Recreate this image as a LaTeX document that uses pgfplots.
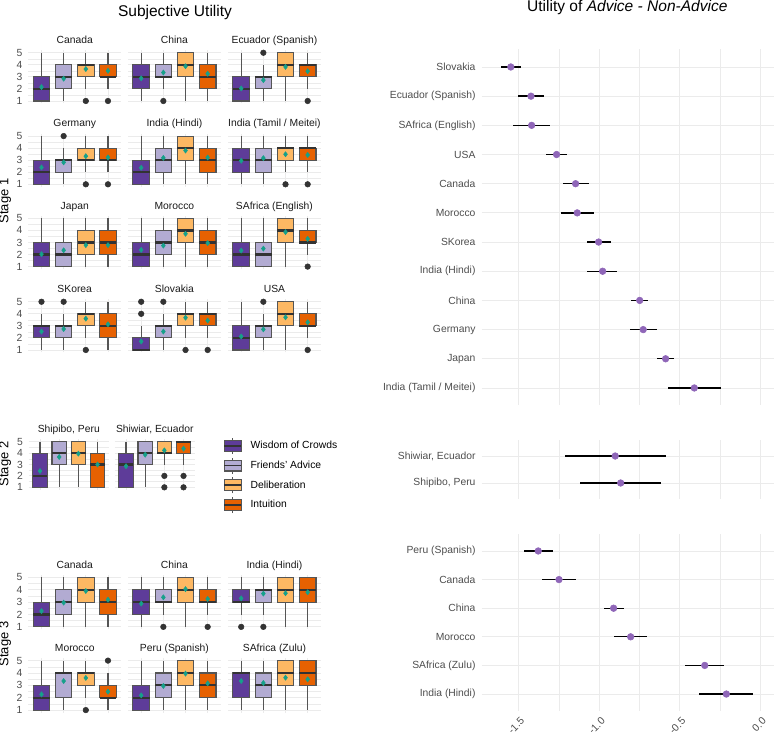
\documentclass[border=0pt]{standalone}
\usepackage{fontspec}
\setmainfont{Liberation Sans}
\usepackage{pgfplots}
\pgfplotsset{compat=1.18}
\usepackage{pgfplotstable}
\usepgfplotslibrary{statistics}

\definecolor{cat1}{HTML}{5E3C99}
\definecolor{cat2}{HTML}{B2ABD2}
\definecolor{cat3}{HTML}{FDB863}
\definecolor{cat4}{HTML}{E66101}
\definecolor{boxedge}{HTML}{555555}
\definecolor{medline}{HTML}{333333}
\definecolor{outl}{HTML}{333333}
\definecolor{meanc}{HTML}{16A08A}
\definecolor{gridc}{HTML}{EBEBEB}
\definecolor{axtext}{HTML}{4D4D4D}
\definecolor{striptext}{HTML}{1A1A1A}
\definecolor{ptc}{HTML}{8F66B8}

\newcommand{\smallfont}{\fontsize{7.75}{9.3}\selectfont}

% Effect estimates (advice minus non-advice) with interval bounds
\pgfplotstableread{
r est lo hi
1 -1.549 -1.613 -1.486
2 -1.424 -1.503 -1.342
3 -1.420 -1.534 -1.306
4 -1.265 -1.331 -1.201
5 -1.147 -1.227 -1.066
6 -1.137 -1.236 -1.033
7 -1.004 -1.078 -0.929
8 -0.979 -1.075 -0.888
9 -0.749 -0.803 -0.696
10 -0.727 -0.809 -0.644
11 -0.588 -0.644 -0.534
12 -0.410 -0.573 -0.246
}\stageone
\pgfplotstableread{
r est lo hi
1 -0.901 -1.211 -0.588
2 -0.867 -1.118 -0.619
}\stagetwo
\pgfplotstableread{
r est lo hi
1 -1.379 -1.468 -1.290
2 -1.250 -1.354 -1.145
3 -0.911 -0.973 -0.847
4 -0.805 -0.907 -0.706
5 -0.345 -0.466 -0.224
6 -0.211 -0.379 -0.043
}\stagethree

% one box: position, lower whisker, lower quartile, median, upper quartile, upper whisker, mean, outliers
\newcommand{\bx}[8]{%
  \addplot[forget plot, draw=boxedge, line width=0.8pt, fill=cat#1,
    boxplot prepared={draw direction=y, draw position=#1, lower whisker=#2, lower quartile=#3,
      median=#4, upper quartile=#5, upper whisker=#6, box extend=0.75,
      whisker extend=0, every median/.style={draw=medline, line width=1.7pt}}]
    coordinates {};
  \if\relax\detokenize{#8}\relax\else
  \addplot[forget plot, only marks, mark=*, mark size=2.1pt, color=outl] coordinates {#8};
  \fi
  \addplot[forget plot, only marks, mark=diamond*, mark size=1.9pt, color=meanc] coordinates {(#1,#7)};
}

\pgfplotsset{
  facet/.style={
    scale only axis, width=69.8pt, height=39.8pt, anchor=south west,
    xmin=0.4, xmax=4.6, ymin=0.8, ymax=5.2,
    xtick={1,2,3,4}, xticklabels={}, ytick={1,2,3,4,5}, yticklabels={},
    minor ytick={1.5,2.5,3.5,4.5},
    xmajorgrids, ymajorgrids, yminorgrids,
    major grid style={draw=gridc, line width=0.7pt},
    minor grid style={draw=gridc, line width=0.35pt},
    axis line style={draw=none}, major tick length=0pt, minor tick length=0pt,
    every axis title/.style={at={(0.5,1)}, anchor=base, yshift=5.2pt, inner sep=0pt,
      font=\smallfont, text=striptext},
  },
  ylab/.style={yticklabels={1,2,3,4,5},
    yticklabel style={font=\smallfont, text=axtext, inner sep=0pt, xshift=-4.1pt}},
  estpanel/.style={
    scale only axis, width=219.2pt, anchor=south west,
    xmin=-1.7297, xmax=0.085, y dir=reverse,
    xtick={-1.5,-1,-0.5,0}, minor xtick={-1.25,-0.75,-0.25}, xticklabels={},
    xmajorgrids, xminorgrids, ymajorgrids,
    major grid style={draw=gridc, line width=0.7pt},
    minor grid style={draw=gridc, line width=0.5pt},
    axis line style={draw=none}, major tick length=0pt, minor tick length=0pt,
    yticklabel style={font=\smallfont, text=axtext, inner sep=0pt, xshift=-4.5pt},
  },
  keybox/.style={legend image code/.code={
    \draw[draw=boxedge, line width=0.8pt] (6.375pt,-6pt) -- (6.375pt,6pt);
    \draw[draw=boxedge, line width=0.8pt, fill=#1] (0pt,-4.1pt) rectangle (12.75pt,4.1pt);
    \draw[draw=medline, line width=1.3pt] (0pt,0pt) -- (12.75pt,0pt);
  }},
}

\newcommand{\estimates}[1]{%
  \addplot[draw=none, mark=none, error bars/.cd, x dir=both, x explicit, error mark=none,
    error bar style={draw=black, line width=1pt, solid}]
    table[x=est, y=r, x error plus expr=\thisrow{hi}-\thisrow{est},
      x error minus expr=\thisrow{est}-\thisrow{lo}] {#1};
  \addplot[only marks, mark=*, mark size=2.5pt, color=ptc] table[x=est, y=r] {#1};
}

\begin{document}
\begin{tikzpicture}
\useasboundingbox (0,0) rectangle (580.5pt,-551.25pt);

% headings
\node[anchor=base, font=\fontsize{11.65}{14}\selectfont] at (131.25pt,-12.5pt) {Subjective Utility};
\node[anchor=base, font=\fontsize{11.65}{14}\selectfont] at (470.5pt,-8.9pt) {Utility of \textit{Advice - Non-Advice}};
\node[rotate=90, anchor=base, font=\fontsize{9.7}{11}\selectfont] at (6.2pt,-150.75pt) {Stage 1};
\node[rotate=90, anchor=base, font=\fontsize{9.7}{11}\selectfont] at (6.2pt,-348pt) {Stage 2};
\node[rotate=90, anchor=base, font=\fontsize{9.7}{11}\selectfont] at (6.2pt,-483pt) {Stage 3};

% ---------------- Stage 1 ----------------
\begin{axis}[facet, ylab, at={(21.15pt,-77.55pt)}, title={Canada}]
\bx{1}{1}{1}{2}{3}{5}{2.15}{} \bx{2}{1}{2}{3}{4}{5}{2.85}{}
\bx{3}{2}{3}{4}{4}{5}{3.65}{(3,1)} \bx{4}{2}{3}{3}{4}{5}{3.50}{(4,1)}
\end{axis}
\begin{axis}[facet, at={(95.93pt,-77.55pt)}, title={China}]
\bx{1}{1}{2}{3}{4}{5}{2.88}{} \bx{2}{2}{3}{3}{4}{5}{3.36}{(2,1)}
\bx{3}{1}{3}{4}{5}{5}{3.88}{} \bx{4}{1}{2}{3}{4}{5}{3.26}{}
\end{axis}
\begin{axis}[facet, at={(170.93pt,-77.55pt)}, title={Ecuador (Spanish)}]
\bx{1}{1}{1}{2}{3}{5}{2.04}{} \bx{2}{1}{2}{3}{3}{4}{2.73}{(2,5)}
\bx{3}{1}{3}{4}{5}{5}{3.83}{} \bx{4}{2}{3}{4}{4}{5}{3.47}{(4,1)}
\end{axis}

\begin{axis}[facet, ylab, at={(21.15pt,-140.03pt)}, title={Germany}]
\bx{1}{1}{1}{2}{3}{5}{2.40}{} \bx{2}{1}{2}{3}{3}{4}{2.82}{(2,5)}
\bx{3}{2}{3}{3}{4}{5}{3.33}{(3,1)} \bx{4}{2}{3}{3}{4}{5}{3.23}{(4,1)}
\end{axis}
\begin{axis}[facet, at={(95.93pt,-140.03pt)}, title={India (Hindi)}]
\bx{1}{1}{1}{2}{3}{5}{2.37}{} \bx{2}{1}{2}{3}{4}{5}{3.19}{}
\bx{3}{1}{3}{4}{5}{5}{3.80}{} \bx{4}{1}{2}{3}{4}{5}{3.22}{}
\end{axis}
\begin{axis}[facet, at={(170.93pt,-140.03pt)}, title={India (Tamil / Meitei)}]
\bx{1}{1}{2}{3}{4}{5}{2.95}{} \bx{2}{1}{2}{3}{4}{5}{3.17}{}
\bx{3}{2}{3}{4}{4}{5}{3.49}{(3,1)} \bx{4}{2}{3}{4}{4}{5}{3.43}{(4,1)}
\end{axis}

\begin{axis}[facet, ylab, at={(21.15pt,-201.75pt)}, title={Japan}]
\bx{1}{1}{1}{2}{3}{5}{2.03}{} \bx{2}{1}{1}{2}{3}{5}{2.35}{}
\bx{3}{1}{2}{3}{4}{5}{2.78}{} \bx{4}{1}{2}{3}{4}{5}{2.78}{}
\end{axis}
\begin{axis}[facet, at={(95.93pt,-201.75pt)}, title={Morocco}]
\bx{1}{1}{1}{2}{3}{5}{2.38}{} \bx{2}{1}{2}{3}{4}{5}{2.74}{}
\bx{3}{1}{3}{4}{5}{5}{3.72}{} \bx{4}{1}{2}{3}{4}{5}{2.95}{}
\end{axis}
\begin{axis}[facet, at={(170.93pt,-201.75pt)}, title={SAfrica (English)}]
\bx{1}{1}{1}{2}{3}{5}{2.33}{} \bx{2}{1}{1}{2}{3}{5}{2.49}{}
\bx{3}{1}{3}{4}{5}{5}{3.86}{} \bx{4}{2}{3}{3}{4}{5}{3.30}{(4,1)}
\end{axis}

\begin{axis}[facet, ylab, at={(21.15pt,-264.3pt)}, title={SKorea}]
\bx{1}{1}{2}{3}{3}{4}{2.53}{(1,5)} \bx{2}{1}{2}{3}{3}{4}{2.74}{(2,5)}
\bx{3}{2}{3}{4}{4}{5}{3.60}{(3,1)} \bx{4}{1}{2}{3}{4}{5}{3.13}{}
\end{axis}
\begin{axis}[facet, at={(95.93pt,-264.3pt)}, title={Slovakia}]
\bx{1}{1}{1}{1}{2}{3}{1.71}{(1,4) (1,5)} \bx{2}{1}{2}{3}{3}{4}{2.53}{(2,5)}
\bx{3}{2}{3}{4}{4}{5}{3.68}{(3,1)} \bx{4}{2}{3}{4}{4}{5}{3.44}{(4,1)}
\end{axis}
\begin{axis}[facet, at={(170.93pt,-264.3pt)}, title={USA}]
\bx{1}{1}{1}{2}{3}{5}{2.12}{} \bx{2}{1}{2}{3}{3}{4}{2.71}{(2,5)}
\bx{3}{1}{3}{4}{5}{5}{3.71}{} \bx{4}{2}{3}{3}{4}{5}{3.30}{(4,1)}
\end{axis}

% ---------------- Stage 2 ----------------
\begin{axis}[facet, ylab, width=60.4pt, height=37.65pt, at={(21.38pt,-367.2pt)}, title={Shipibo, Peru}]
\bx{1}{1}{1}{2}{4}{5}{2.43}{} \bx{2}{1}{3}{4}{5}{5}{3.66}{}
\bx{3}{1}{3}{4}{5}{5}{3.95}{} \bx{4}{1}{1}{3}{4}{5}{3.00}{}
\end{axis}
\begin{axis}[facet, width=60.4pt, height=37.65pt, at={(85.88pt,-367.2pt)}, title={Shiwiar, Ecuador},
  legend style={at={(1,1)}, anchor=north west, xshift=21.2pt, yshift=1.8pt,
    draw=none, fill=none, inner sep=0pt, row sep=2pt, column sep=6.2pt,
    font=\smallfont, nodes={inner sep=0pt}},
  legend cell align=left]
\addlegendimage{keybox=cat1}
\addlegendimage{keybox=cat2}
\addlegendimage{keybox=cat3}
\addlegendimage{keybox=cat4}
\legend{Wisdom of Crowds, Friends' Advice, Deliberation, Intuition}
\bx{1}{1}{1}{3}{4}{5}{2.85}{} \bx{2}{1}{3}{4}{5}{5}{3.86}{}
\bx{3}{3}{4}{4}{5}{5}{4.24}{(3,2) (3,1)} \bx{4}{3}{4}{5}{5}{5}{4.39}{(4,2) (4,1)}
\end{axis}

% ---------------- Stage 3 ----------------
\begin{axis}[facet, ylab, height=40.8pt, at={(21.15pt,-472pt)}, title={Canada}]
\bx{1}{1}{1}{2}{3}{5}{2.28}{} \bx{2}{1}{2}{3}{4}{5}{2.96}{}
\bx{3}{1}{3}{4}{5}{5}{3.90}{} \bx{4}{1}{2}{3}{4}{5}{3.20}{}
\end{axis}
\begin{axis}[facet, height=40.8pt, at={(95.93pt,-472pt)}, title={China}]
\bx{1}{1}{2}{3}{4}{5}{2.88}{} \bx{2}{2}{3}{3}{4}{5}{3.39}{(2,1)}
\bx{3}{1}{3}{4}{5}{5}{4.05}{} \bx{4}{2}{3}{3}{4}{5}{3.26}{(4,1)}
\end{axis}
\begin{axis}[facet, height=40.8pt, at={(170.93pt,-472pt)}, title={India (Hindi)}]
\bx{1}{2}{3}{3}{4}{5}{3.31}{(1,1)} \bx{2}{2}{3}{4}{4}{5}{3.69}{(2,1)}
\bx{3}{1}{3}{4}{5}{5}{3.72}{} \bx{4}{1}{3}{4}{5}{5}{3.80}{}
\end{axis}

\begin{axis}[facet, ylab, height=40.8pt, at={(21.15pt,-534.4pt)}, title={Morocco}]
\bx{1}{1}{1}{2}{3}{5}{2.27}{} \bx{2}{1}{2}{4}{4}{5}{3.35}{}
\bx{3}{2}{3}{4}{4}{5}{3.60}{(3,1)} \bx{4}{1}{2}{2}{3}{4}{2.49}{(4,5)}
\end{axis}
\begin{axis}[facet, height=40.8pt, at={(95.93pt,-534.4pt)}, title={Peru (Spanish)}]
\bx{1}{1}{1}{2}{3}{5}{2.19}{} \bx{2}{1}{2}{3}{4}{5}{2.95}{}
\bx{3}{1}{3}{4}{5}{5}{3.95}{} \bx{4}{1}{2}{3}{4}{5}{3.16}{}
\end{axis}
\begin{axis}[facet, height=40.8pt, at={(170.93pt,-534.4pt)}, title={SAfrica (Zulu)}]
\bx{1}{1}{2}{4}{4}{5}{3.35}{} \bx{2}{1}{2}{3}{4}{5}{3.19}{}
\bx{3}{1}{3}{4}{5}{5}{3.62}{} \bx{4}{1}{3}{4}{5}{5}{3.49}{}
\end{axis}

% ---------------- Advice effect estimates ----------------
\begin{axis}[estpanel, height=267pt, at={(361.3pt,-304.1pt)},
  ymin=0.4, ymax=12.6, ytick={1,...,12},
  yticklabels={Slovakia, Ecuador (Spanish), SAfrica (English), USA, Canada, Morocco,
    SKorea, India (Hindi), China, Germany, Japan, India (Tamil / Meitei)}]
\estimates{\stageone}
\end{axis}
\begin{axis}[estpanel, height=44.55pt, at={(361.3pt,-374.4pt)},
  ymin=0.4, ymax=2.6, ytick={1,2},
  yticklabels={{Shiwiar, Ecuador},{Shipibo, Peru}}]
\estimates{\stagetwo}
\end{axis}
\begin{axis}[estpanel, height=133.05pt, at={(361.3pt,-533.4pt)},
  ymin=0.4, ymax=6.6, ytick={1,...,6},
  yticklabels={Peru (Spanish), Canada, China, Morocco, SAfrica (Zulu), India (Hindi)},
  xticklabels={-1.5,-1.0,-0.5,0.0},
  xticklabel style={xshift=3pt, yshift=-6pt, rotate=45, anchor=east, inner sep=0pt,
    font=\smallfont, text=axtext}]
\estimates{\stagethree}
\end{axis}
\end{tikzpicture}
\end{document}
